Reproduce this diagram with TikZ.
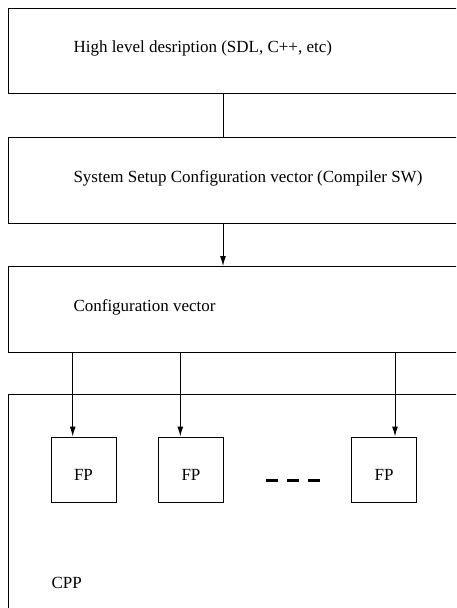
\documentclass[tikz,border=0pt]{standalone}
\usepackage{fontspec}
\setmainfont{Liberation Serif}
\usetikzlibrary{arrows.meta}
\begin{document}
\begin{tikzpicture}[x=1pt,y=-1pt,
  line width=1pt,
  box/.style={draw, rectangle, anchor=north west, inner sep=0pt},
  lbl/.style={anchor=base west, inner sep=0pt, font=\fontsize{17}{20}\selectfont},
  fpbox/.style={draw, rectangle, minimum width=65pt, minimum height=65pt, inner sep=0pt,
    text height=22pt, text depth=0pt, font=\fontsize{17}{20}\selectfont},
  arr/.style={-{Latex[length=10pt,width=6pt]}}]
\useasboundingbox (0,0) rectangle (456,608);
\clip (0,0) rectangle (456,608);
% stacked stage boxes
\node[box, minimum width=470pt, minimum height=85pt] (hl) at (8,8) {};
\node[box, minimum width=470pt, minimum height=86pt] (sys) at (8,137) {};
\node[box, minimum width=470pt, minimum height=86pt] (cfg) at (8,266) {};
\node[box, minimum width=470pt, minimum height=240pt] (cpp) at (8,394) {};
% labels
\node[lbl] (hlt) at (73,52) {High level desription (SDL, C++, etc)};
\node[lbl] (syst) at (73,182) {System Setup Configuration vector (Compiler SW)};
\node[lbl] (cfgt) at (73,311) {Configuration vector};
\node[lbl] (cppt) at (51,588) {CPP};
% function processors
\node[fpbox] (fp1) at (83.5,469.5) {FP};
\node[fpbox] (fp2) at (191,469.5) {FP};
\node[fpbox] (fp3) at (384,469.5) {FP};
% ellipsis between processors
\draw[line width=3pt, dash pattern=on 12pt off 9pt] (266,480) -- (321,480);
% connectors
\coordinate (c1) at (223,0);
\coordinate (a1) at (72.7,0);
\coordinate (a2) at (180.3,0);
\coordinate (a3) at (395,0);
\draw (hl.south -| c1) -- (sys.north -| c1);
\draw[arr] (sys.south -| c1) -- (cfg.north -| c1);
\draw[arr] (cfg.south -| a1) -- (fp1.north -| a1);
\draw[arr] (cfg.south -| a2) -- (fp2.north -| a2);
\draw[arr] (cfg.south -| a3) -- (fp3.north -| a3);
\end{tikzpicture}
\end{document}
